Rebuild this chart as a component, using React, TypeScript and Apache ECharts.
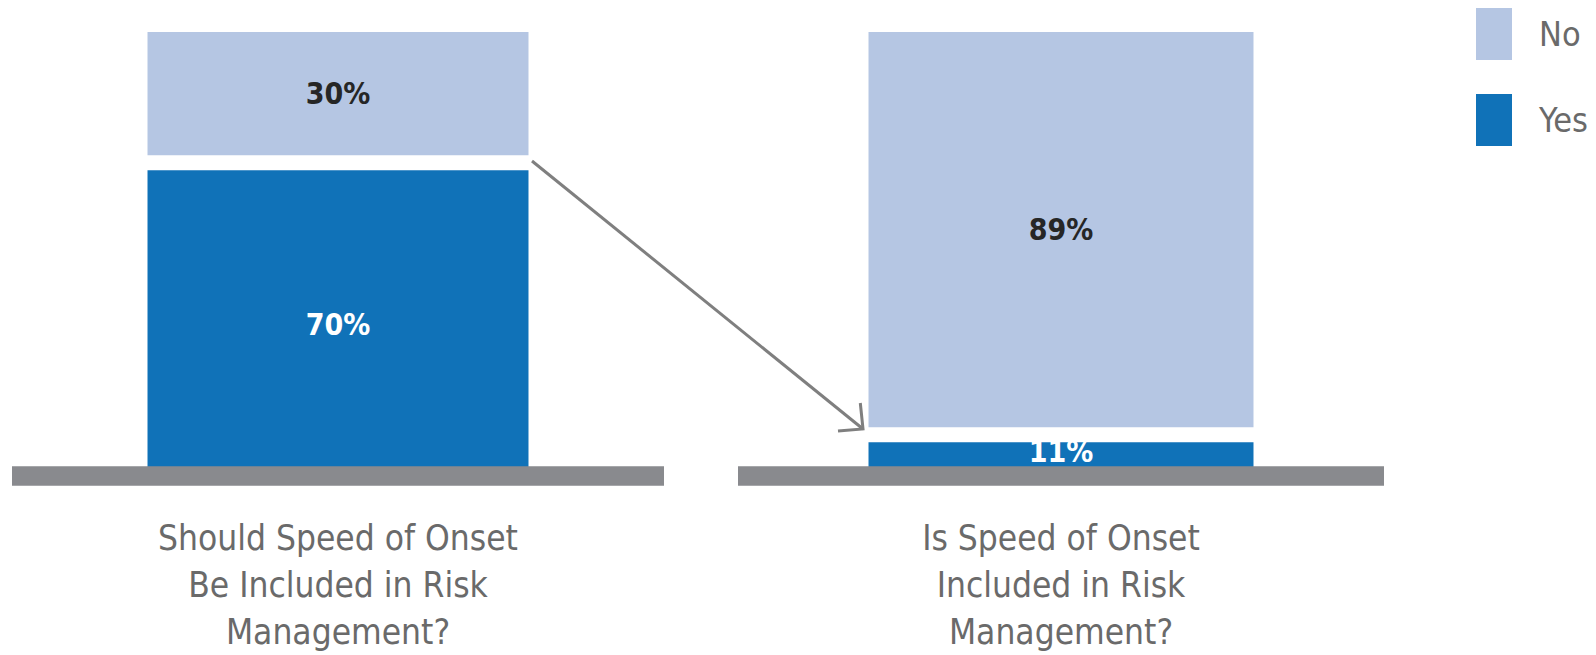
import React, { useEffect, useRef } from "react";
import * as echarts from "echarts";

const categoriesLeft = ["Should Speed of Onset\nBe Included in Risk\nManagement?"];
const categoriesRight = ["Is Speed of Onset\nIncluded in Risk\nManagement?"];
const yesValues = [70, 11];
const noValues = [30, 89];
const legendNames = ["No", "Yes"];

const COLOR_NO = "#b5c6e3";
const COLOR_YES = "#1072b8";
const BASE = "#898a8e";
const TEXT = "#6a6a6a";
const FONT = "'DejaVu Sans Condensed', 'DejaVu Sans', sans-serif";

export default function App() {
  const ref = useRef<HTMLDivElement>(null);

  useEffect(() => {
    document.body.style.margin = "0";
    if (!ref.current) return;
    const chart = echarts.init(ref.current, undefined, { renderer: "svg" });

    const gridTop = 24.5;
    const gridBottom = 167.8;
    const makeX = (idx: number, cats: string[]) => ({
      type: "category",
      gridIndex: idx,
      data: cats,
      z: 10,
      offset: -9.35,
      axisTick: { show: false },
      axisLine: { show: true, lineStyle: { color: BASE, width: 19.7, cap: "butt" } },
      axisLabel: {
        margin: 38,
        fontSize: 35,
        lineHeight: 47,
        color: TEXT,
        fontFamily: FONT,
        align: "center",
      },
    });
    const makeY = (idx: number) => ({
      type: "value",
      gridIndex: idx,
      min: 0,
      max: 100,
      show: false,
    });

    const barBase = {
      type: "bar",
      itemStyle: { borderColor: "#ffffff", borderWidth: 7.5 },
    };

    const series: any[] = [];
    [0, 1].forEach((i) => {
      const bw = i === 0 ? 396 : 400;
      series.push({
        ...barBase,
        barWidth: bw,
        name: "Yes",
        xAxisIndex: i,
        yAxisIndex: i,
        stack: "s" + i,
        data: [yesValues[i]],
        itemStyle: { ...barBase.itemStyle, color: COLOR_YES },
        label: {
          show: true,
          position: "inside",
          formatter: "{c}%",
          color: "#ffffff",
          fontSize: 30,
          fontWeight: "bold",
          fontFamily: FONT,
          offset: i === 1 ? [0, -9] : [0, 0],
        },
      });
      series.push({
        ...barBase,
        barWidth: bw,
        name: "No",
        xAxisIndex: i,
        yAxisIndex: i,
        stack: "s" + i,
        data: [noValues[i]],
        itemStyle: { ...barBase.itemStyle, color: COLOR_NO },
        label: {
          show: true,
          position: "inside",
          formatter: "{c}%",
          color: "#262626",
          fontSize: 30,
          fontWeight: "bold",
          fontFamily: FONT,
        },
      });
    });

    const tip = [863, 429];
    const start = [532, 161];

    chart.setOption({
      animation: false,
      legend: {
        data: legendNames,
        orient: "vertical",
        left: 1469,
        top: 1,
        icon: "rect",
        itemWidth: 38,
        itemHeight: 54,
        itemGap: 30,
        selectedMode: false,
        textStyle: {
          fontSize: 34,
          color: TEXT,
          fontFamily: FONT,
          padding: [0, 0, 0, 21],
        },
      },
      grid: [
        { left: 12, width: 652, top: gridTop, bottom: gridBottom },
        { left: 738, width: 646, top: gridTop, bottom: gridBottom },
      ],
      xAxis: [makeX(0, categoriesLeft), makeX(1, categoriesRight)],
      yAxis: [makeY(0), makeY(1)],
      series,
      graphic: [
        {
          type: "line",
          z: 20,
          shape: { x1: start[0], y1: start[1], x2: tip[0], y2: tip[1] },
          style: { stroke: "#7f7f7f", lineWidth: 3 },
        },
        {
          type: "polyline",
          z: 20,
          shape: { points: [[860.3, 403], tip, [838, 431]] },
          style: { stroke: "#7f7f7f", lineWidth: 3, fill: null },
        },
      ],
    });

    return () => chart.dispose();
  }, []);

  return <div ref={ref} style={{ width: 1596, height: 655 }} />;
}
